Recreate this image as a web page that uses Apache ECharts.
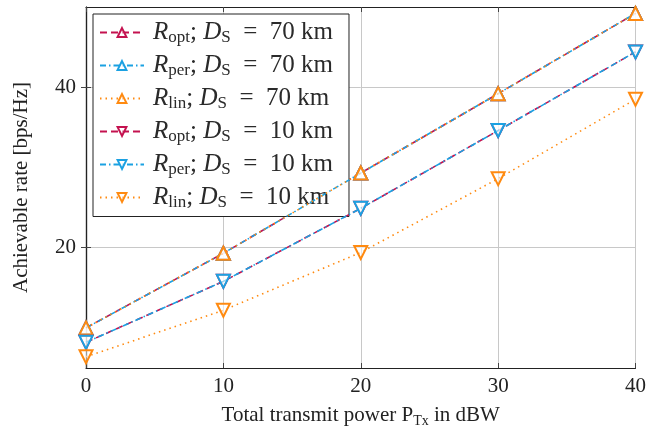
<!DOCTYPE html>
<html><head><meta charset="utf-8">
<script src="https://cdn.jsdelivr.net/npm/echarts@6/dist/echarts.min.js"></script>
<style>html,body{margin:0;padding:0;background:#fff}#c{width:649px;height:443px}</style>
</head><body><div id="c"></div>
<script>
const xValues = [0, 10, 20, 30, 40];
const xTicks = [0, 10, 20, 30, 40];
const yTicks = [20, 40];
const opt70 = [10.0, 19.3, 29.3, 39.2, 49.2];
const per70 = [10.0, 19.3, 29.3, 39.2, 49.2];
const lin70 = [10.0, 19.3, 29.3, 39.2, 49.2];
const opt10 = [8.2, 15.8, 24.9, 34.6, 44.4];
const per10 = [8.2, 15.8, 24.9, 34.6, 44.4];
const lin10 = [6.4, 12.2, 19.4, 28.6, 38.5];
const seriesNames = ['opt70', 'per70', 'lin70', 'opt10', 'per10', 'lin10'];
const seriesSub = ['opt', 'per', 'lin', 'opt', 'per', 'lin'];
const seriesDist = ['70', '70', '70', '10', '10', '10'];

const C_OPT = '#C4124F', C_PER = '#1BA1E2', C_LIN = '#FF8A10';
const FONT = '"Liberation Serif", "DejaVu Serif", serif';
const colors = { opt: C_OPT, per: C_PER, lin: C_LIN };
const dashes = { opt: [7, 4], per: [6, 3, 1.5, 3], lin: [1.5, 4] };
const datasets = [opt70, per70, lin70, opt10, per10, lin10];

const series = seriesNames.map((n, i) => {
  const k = seriesSub[i];
  const up = seriesDist[i] === '70';
  return {
    name: n, type: 'line',
    data: xValues.map((x, j) => [x, datasets[i][j]]),
    symbol: 'triangle', symbolRotate: up ? 0 : 180, symbolSize: 13,
    lineStyle: { color: colors[k], width: 1.6, type: dashes[k] },
    itemStyle: { color: 'rgba(255,255,255,0.55)', borderColor: colors[k], borderWidth: 2 },
    emphasis: { disabled: true },
    animation: false,
    z: 3 + i
  };
});

const rich = {
  it: { fontFamily: FONT, fontStyle: 'italic', fontSize: 25, lineHeight: 28, color: '#2a2a2a' },
  itL: { fontFamily: FONT, fontStyle: 'italic', fontSize: 25, lineHeight: 28, color: '#2a2a2a', padding: [0, 0, 0, 4] },
  rm: { fontFamily: FONT, fontSize: 25, lineHeight: 28, color: '#2a2a2a' },
  sub: { fontFamily: FONT, fontSize: 17, lineHeight: 15, verticalAlign: 'bottom', color: '#2a2a2a' }
};

const chart = echarts.init(document.getElementById('c'), null, { renderer: 'canvas' });
chart.setOption({
  animation: false,
  grid: { left: 86, right: 12, top: 7, bottom: 75, containLabel: false },
  legend: {
    orient: 'vertical', left: 93, top: 14,
    data: seriesNames,
    borderColor: '#222', borderWidth: 1, backgroundColor: '#fff',
    padding: [6, 16, 5, 6], itemGap: 6.5, itemWidth: 44, itemHeight: 11,
    selectedMode: false,
    formatter: function (name) {
      const i = seriesNames.indexOf(name);
      return '{itL|R}{sub|' + seriesSub[i] + '}{rm|; }{it|D}{sub|S}{rm|\u2002=\u2002' + seriesDist[i] + '\u2005km}';
    },
    textStyle: { rich: rich, fontFamily: FONT, fontSize: 25 }
  },
  xAxis: [{
    type: 'value', min: 0, max: 40, interval: 10,
    axisLine: { show: true, lineStyle: { color: '#222', width: 1.2 } },
    axisTick: { show: true, inside: true, length: 5, lineStyle: { color: '#444' } },
    axisLabel: { fontFamily: FONT, fontSize: 21, color: '#222', margin: 8 },
    splitLine: { show: true, lineStyle: { color: '#c8c8c8', width: 1 } },
    name: '{a|Total transmit power P}{s|Tx}{a| in dBW}',
    nameLocation: 'middle', nameGap: 34,
    nameTextStyle: { rich: { a: { fontFamily: FONT, fontSize: 21, color: '#222', lineHeight: 26 }, s: { fontFamily: FONT, fontSize: 14, color: '#222', lineHeight: 14, verticalAlign: 'bottom' } } }
  }, {
    type: 'value', min: 0, max: 40, interval: 10, position: 'top',
    axisLine: { show: true, lineStyle: { color: '#222', width: 1.2 } },
    axisTick: { show: true, inside: true, length: 5, lineStyle: { color: '#444' } },
    axisLabel: { show: false }, splitLine: { show: false }
  }],
  yAxis: [{
    type: 'value', min: 5, max: 50,
    axisLine: { show: true, lineStyle: { color: '#222', width: 1.2 } },
    axisTick: { show: true, inside: true, length: 5, customValues: yTicks, lineStyle: { color: '#444' } },
    axisLabel: { fontFamily: FONT, fontSize: 21, color: '#222', margin: 10, customValues: yTicks },
    splitLine: { show: true, lineStyle: { color: '#c8c8c8', width: 1 } },
    name: 'Achievable rate [bps/Hz]', nameLocation: 'middle', nameGap: 54,
    nameTextStyle: { fontFamily: FONT, fontSize: 21, color: '#222' }
  }, {
    type: 'value', min: 5, max: 50, position: 'right',
    axisLine: { show: true, lineStyle: { color: '#222', width: 1.2 } },
    axisTick: { show: true, inside: true, length: 5, customValues: yTicks, lineStyle: { color: '#444' } },
    axisLabel: { show: false }, splitLine: { show: false }
  }],
  series: series
});
</script></body></html>
